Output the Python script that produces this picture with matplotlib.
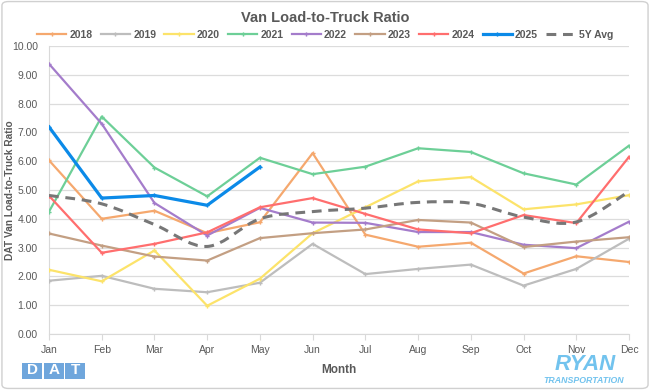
import numpy as np
import matplotlib
matplotlib.use("Agg")
import matplotlib.pyplot as plt
from matplotlib.path import Path
from matplotlib.patches import PathPatch, FancyBboxPatch, Rectangle

plt.rcParams['font.family'] = ['Liberation Sans', 'DejaVu Sans']

months = ['Jan', 'Feb', 'Mar', 'Apr', 'May', 'Jun', 'Jul', 'Aug', 'Sep', 'Oct', 'Nov', 'Dec']

y2018 = [6.03, 4.00, 4.28, 3.50, 3.88, 6.28, 3.45, 3.03, 3.17, 2.10, 2.70, 2.50]
y2019 = [1.85, 2.02, 1.57, 1.45, 1.78, 3.13, 2.08, 2.26, 2.41, 1.68, 2.26, 3.31]
y2020 = [2.23, 1.83, 2.90, 0.98, 1.92, 3.50, 4.40, 5.30, 5.45, 4.33, 4.50, 4.82]
y2021 = [4.25, 7.55, 5.78, 4.78, 6.12, 5.55, 5.81, 6.45, 6.32, 5.58, 5.19, 6.54]
y2022 = [9.38, 7.30, 4.55, 3.42, 4.38, 3.87, 3.86, 3.54, 3.54, 3.10, 2.98, 3.90]
y2023 = [3.49, 3.07, 2.69, 2.55, 3.33, 3.50, 3.63, 3.96, 3.87, 3.02, 3.21, 3.36]
y2024 = [4.80, 2.82, 3.13, 3.53, 4.40, 4.72, 4.17, 3.63, 3.50, 4.13, 3.85, 6.15]
y2025 = [7.19, 4.72, 4.81, 4.47, 5.80]
avg5y = [4.81, 4.52, 3.80, 3.04, 4.00, 4.25, 4.37, 4.57, 4.54, 4.06, 3.89, 4.95]

series = [
    ('2018', y2018, '#F5A86E'),
    ('2019', y2019, '#BDBDBD'),
    ('2020', y2020, '#FCE36A'),
    ('2021', y2021, '#6DCF97'),
    ('2022', y2022, '#A47CCB'),
    ('2023', y2023, '#C39F83'),
    ('2024', y2024, '#FF6E6E'),
]

fig = plt.figure(figsize=(6.5, 3.9), dpi=100)
fig.patches.append(FancyBboxPatch((0.003, 0.004), 0.994, 0.992, boxstyle='round,pad=0,rounding_size=0.01',
                                  transform=fig.transFigure, fc='white', ec='#D0D0D0', lw=1.0, zorder=-10))
ax = fig.add_axes([0.0754, 0.1436, 0.8923, 0.7384])

x = np.arange(12)
for name, vals, col in series:
    ax.plot(x[:len(vals)], vals, color=col, lw=1.6, marker='P', ms=3, mew=0, label=name, zorder=3)
ax.plot(x[:len(y2025)], y2025, color='#0B8AE8', lw=2.3, marker='P', ms=3, mew=0, label='2025', zorder=4)

# smoothed 5Y avg line (Excel style bezier)
pts = np.column_stack([x, avg5y]).astype(float)
verts = [pts[0]]
codes = [Path.MOVETO]
for i in range(len(pts) - 1):
    p0 = pts[max(i - 1, 0)]
    p1 = pts[i]
    p2 = pts[i + 1]
    p3 = pts[min(i + 2, len(pts) - 1)]
    verts += [p1 + (p2 - p0) / 6, p2 - (p3 - p1) / 6, p2]
    codes += [Path.CURVE4] * 3
ax.add_patch(PathPatch(Path(verts, codes), fill=False, ec='#777777', lw=2.2, ls=(0, (3.2, 2.2)), zorder=5))
ax.plot([], [], color='#777777', lw=2.2, ls=(0, (3.2, 2.2)), label='5Y Avg')

ax.set_xlim(0, 11)
ax.set_ylim(0, 10)
ax.set_yticks(np.arange(0, 11, 1))
ax.set_yticklabels([f'{v:.2f}' for v in range(11)])
ax.set_xticks(x)
ax.set_xticklabels(months)
ax.grid(axis='y', color='#DCDCDC', lw=0.9)
ax.set_axisbelow(True)
for s in ['top', 'right']:
    ax.spines[s].set_visible(False)
ax.spines['left'].set_color('#D9D9D9')
ax.spines['bottom'].set_color('#D9D9D9')
ax.tick_params(axis='y', length=0, labelsize=7.5, labelcolor='#595959', pad=8)
ax.tick_params(axis='x', length=4, color='#D9D9D9', labelsize=7.5, labelcolor='#595959', pad=4)

ax.set_xlabel('Month', fontsize=8.5, fontweight='bold', color='#595959')
ax.xaxis.set_label_coords(0.5, -0.105)
ax.set_ylabel('DAT Van Load-to-Truck Ratio', fontsize=7.3, fontweight='bold', color='#595959')
ax.yaxis.set_label_coords(-0.058, 0.5)

fig.text(0.5, 0.955, 'Van Load-to-Truck Ratio', ha='center', va='center', fontsize=10.5,
         fontweight='bold', color='#595959')

leg = fig.legend(loc='center', bbox_to_anchor=(0.5, 0.91), ncol=9, frameon=False, fontsize=7.5,
                 handlelength=2.8, columnspacing=0.8, handletextpad=0.3, borderaxespad=0)
for t in leg.get_texts():
    t.set_color('#595959')
    t.set_fontweight('bold')

# DAT logo
for i, ch in enumerate('DAT'):
    x0 = (22 + i * 21.7) / 650
    fig.patches.append(Rectangle((x0, 1 - 379 / 390), 20 / 650, 16.5 / 390, transform=fig.transFigure,
                                 fc='#6FA6DC', ec='none'))
    fig.text(x0 + 10 / 650, 1 - 370.5 / 390, ch, ha='center', va='center', fontsize=11,
             fontweight='bold', color='white')

# Ryan logo
fig.text(585 / 650, 1 - 370.5 / 390, 'RYAN', ha='center', va='baseline', fontsize=16, fontweight='bold',
         style='italic', color='#72C3EE')
fig.text(584 / 650, 1 - 383 / 390, 'TRANSPORTATION', ha='center', va='baseline', fontsize=6.3,
         fontweight='bold', style='italic', color='#72C3EE')

fig.savefig('out.png', dpi=100)
